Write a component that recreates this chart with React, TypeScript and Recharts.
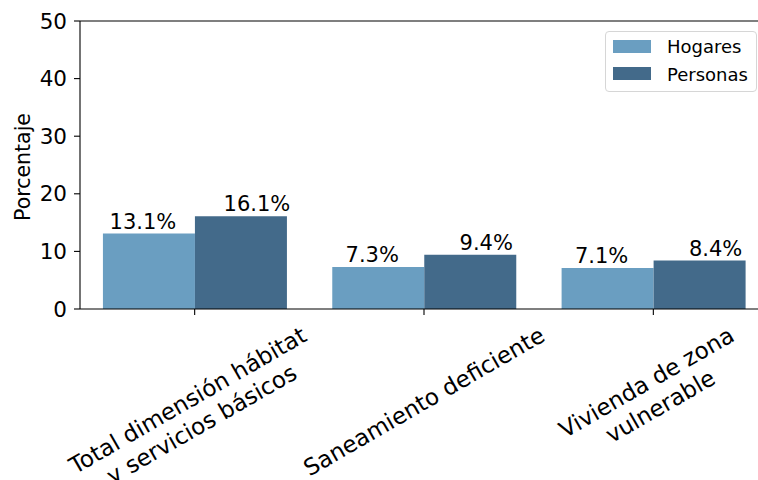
import React from 'react';
import { BarChart, Bar, XAxis, YAxis, Legend, LabelList, ReferenceLine } from 'recharts';

const categories = [
  'Total dimensión hábitat\ny servicios básicos',
  'Saneamiento deficiente',
  'Vivienda de zona\nvulnerable',
];
const hogares = [13.1, 7.3, 7.1];
const personas = [16.1, 9.4, 8.4];
const yTicks = [0, 10, 20, 30, 40, 50];
const seriesNames = ['Hogares', 'Personas'];
const yLabel = 'Porcentaje';

const data = categories.map((c, i) => ({ name: c, hogares: hogares[i], personas: personas[i] }));

const FONT = '"DejaVu Sans", sans-serif';
const XFS = 23;
const COLORS = ['#6a9ec1', '#436a8a'];

let ctx: CanvasRenderingContext2D | null = null;
function measure(text: string, size: number): number {
  if (!ctx) ctx = document.createElement('canvas').getContext('2d');
  if (!ctx) return text.length * size * 0.58;
  ctx.font = `${size}px "DejaVu Sans"`;
  return ctx.measureText(text).width;
}

const XTick = (props: any) => {
  const { x, y, payload } = props;
  const lines = String(payload.value).split('\n');
  const lh = XFS * 1.2;
  const W = Math.max(...lines.map((l) => measure(l, XFS)));
  const Hb = lines.length * lh;
  const a = Math.PI / 6;
  const bboxH = W * Math.sin(a) + Hb * Math.cos(a);
  const top = y + 4;
  const cy = top + bboxH / 2;
  return (
    <g transform={`translate(${x},${cy}) rotate(-30)`}>
      {lines.map((l, i) => (
        <text
          key={i}
          x={0}
          y={-Hb / 2 + lh * (i + 0.5)}
          textAnchor="middle"
          dominantBaseline="central"
          fontSize={XFS}
          fontFamily={FONT}
          fill="#000"
        >
          {l}
        </text>
      ))}
    </g>
  );
};

const makeValueLabel = (dx: number) => (props: any) => {
  const { x, y, width, value } = props;
  return (
    <text
      x={Number(x) + Number(width) / 2 + dx}
      y={Number(y) - 5}
      textAnchor="middle"
      fontSize={21}
      fontFamily={FONT}
      fill="#000"
    >{`${value}%`}</text>
  );
};

const YLabel = (props: any) => {
  const vb = props.viewBox || { x: 0, y: 21, width: 80, height: 288 };
  const cx = vb.x + 22.5;
  const cy = vb.y + vb.height / 2 + 2;
  return (
    <text
      x={cx}
      y={cy}
      transform={`rotate(-90, ${cx}, ${cy})`}
      textAnchor="middle"
      dominantBaseline="central"
      fontSize={20.5}
      fontFamily={FONT}
      fill="#000"
    >
      {yLabel}
    </text>
  );
};

const LegendBox = (props: any) => {
  const payload = props.payload || [];
  return (
    <div
      style={{
        boxSizing: 'border-box',
        width: 152,
        height: 61,
        border: '1px solid #d6d6d6',
        borderRadius: 4,
        background: '#fff',
        position: 'relative',
        fontFamily: FONT,
        fontSize: 18,
        color: '#000',
      }}
    >
      {payload.map((p: any, i: number) => (
        <React.Fragment key={i}>
          <div
            style={{
              position: 'absolute',
              left: 7,
              top: 8 + i * 27,
              width: 38,
              height: 13,
              background: p.color,
            }}
          />
          <div
            style={{
              position: 'absolute',
              left: 61,
              top: 4 + i * 28,
              lineHeight: '21px',
              whiteSpace: 'nowrap',
            }}
          >
            {p.value}
          </div>
        </React.Fragment>
      ))}
    </div>
  );
};

export default function App() {
  return (
    <div style={{ position: 'absolute', left: 0, top: 0, width: 758, height: 480, overflow: 'hidden', background: '#fff' }}>
      <BarChart
        width={770}
        height={480}
        data={data}
        margin={{ top: 21, right: 2, left: 0, bottom: 0 }}
        barCategoryGap="10%"
        barGap={0}
      >
        <XAxis
          dataKey="name"
          interval={0}
          height={171}
          tickSize={6}
          tick={<XTick />}
          axisLine={{ stroke: '#000', strokeWidth: 1.1 }}
          tickLine={{ stroke: '#000', strokeWidth: 1.1 }}
        />
        <YAxis
          type="number"
          domain={[0, 50]}
          ticks={yTicks}
          width={80}
          tickSize={6}
          tickMargin={7}
          tick={{ fontSize: 21.5, fill: '#000', fontFamily: FONT }}
          axisLine={{ stroke: '#000', strokeWidth: 1.1 }}
          tickLine={{ stroke: '#000', strokeWidth: 1.1 }}
          label={<YLabel />}
        />
        <ReferenceLine y={50} stroke="#000" strokeWidth={1.1} />
        <Legend
          layout="horizontal"
          verticalAlign="middle"
          align="center"
          content={<LegendBox />}
          wrapperStyle={{ position: 'absolute', left: 605, top: 31, width: 152, height: 61 }}
        />
        <Bar dataKey="hogares" name={seriesNames[0]} fill={COLORS[0]} isAnimationActive={false}>
          <LabelList dataKey="hogares" content={makeValueLabel(-6)} />
        </Bar>
        <Bar dataKey="personas" name={seriesNames[1]} fill={COLORS[1]} isAnimationActive={false}>
          <LabelList dataKey="personas" content={makeValueLabel(16)} />
        </Bar>
      </BarChart>
    </div>
  );
}
